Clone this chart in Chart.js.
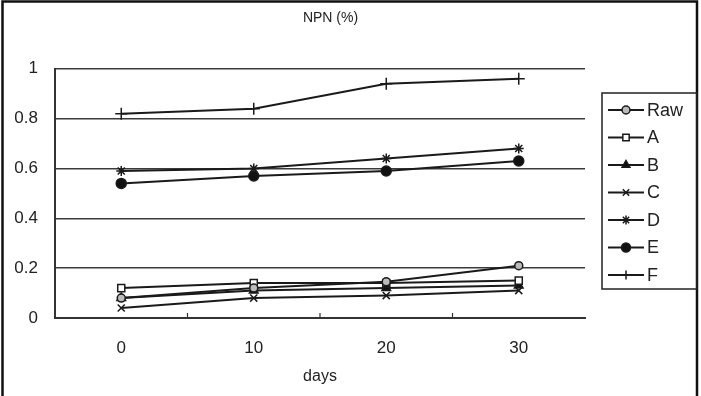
<!DOCTYPE html>
<html>
<head>
<meta charset="utf-8">
<style>
  html, body { margin: 0; padding: 0; background: #fff; }
  #wrap { width: 701px; height: 396px; position: relative; }
</style>
<script src="https://cdn.jsdelivr.net/npm/chart.js@4.4.1/dist/chart.umd.min.js"></script>
</head>
<body>
<div id="wrap"><canvas id="c" width="701" height="396"></canvas></div>
<script>
const chartTitle = 'NPN (%)';
const xAxisTitle = 'days';
const categories = ['0', '10', '20', '30'];
const seriesNames = ['Raw', 'A', 'B', 'C', 'D', 'E', 'F'];
const rawValues = [0.08, 0.12, 0.145, 0.21];
const aValues = [0.12, 0.14, 0.14, 0.15];
const bValues = [0.08, 0.11, 0.12, 0.13];
const cValues = [0.04, 0.08, 0.09, 0.11];
const dValues = [0.59, 0.60, 0.64, 0.68];
const eValues = [0.54, 0.57, 0.59, 0.63];
const fValues = [0.82, 0.84, 0.94, 0.96];
const yTicks = [0, 0.2, 0.4, 0.6, 0.8, 1];

const allValues = [rawValues, aValues, bValues, cValues, dValues, eValues, fValues];
const markerStyles = [
  { pointStyle: 'circle', radius: 4, fill: '#bbb' },
  { pointStyle: 'rect', radius: 5, fill: '#fff' },
  { pointStyle: 'triangle', radius: 5, fill: '#111' },
  { pointStyle: 'crossRot', radius: 5, fill: '#111' },
  { pointStyle: 'star', radius: 5, fill: '#111' },
  { pointStyle: 'circle', radius: 5, fill: '#111' },
  { pointStyle: 'cross', radius: 6, fill: '#111' }
];

const datasets = seriesNames.map((name, i) => ({
  label: name,
  data: allValues[i],
  borderColor: '#1a1a1a',
  borderWidth: 2,
  backgroundColor: markerStyles[i].fill,
  pointStyle: markerStyles[i].pointStyle,
  pointRadius: markerStyles[i].radius,
  pointBorderColor: '#1a1a1a',
  pointBorderWidth: 1.5,
  pointBackgroundColor: markerStyles[i].fill,
  tension: 0,
  fill: false
}));

const FONT = "'Liberation Sans', Arial, sans-serif";

const framePlugin = {
  id: 'frame',
  afterDraw(chart) {
    const ctx = chart.ctx;
    const ca = chart.chartArea;
    const xs = chart.scales.x;
    ctx.save();
    // outer frame
    ctx.strokeStyle = '#111';
    ctx.lineWidth = 2.5;
    ctx.beginPath();
    ctx.moveTo(2.5, 396);
    ctx.lineTo(2.5, 1.5);
    ctx.lineTo(697, 1.5);
    ctx.lineTo(697, 396);
    ctx.stroke();
    // small inward ticks between categories on x axis
    ctx.lineWidth = 1.2;
    ctx.strokeStyle = '#333';
    for (let i = 0; i < categories.length - 1; i++) {
      const px = (xs.getPixelForValue(i) + xs.getPixelForValue(i + 1)) / 2;
      ctx.beginPath();
      ctx.moveTo(px, ca.bottom);
      ctx.lineTo(px, ca.bottom - 5);
      ctx.stroke();
    }
    // legend
    const lx = 602, ly = 93, lw = 95, lh = 196;
    ctx.lineWidth = 1.5;
    ctx.strokeStyle = '#222';
    ctx.strokeRect(lx, ly, lw, lh);
    ctx.font = '18px ' + FONT;
    ctx.fillStyle = '#222';
    ctx.textBaseline = 'middle';
    ctx.textAlign = 'left';
    chart.data.datasets.forEach((ds, i) => {
      const y = 110 + i * 27.5;
      ctx.strokeStyle = '#1a1a1a';
      ctx.lineWidth = 2;
      ctx.beginPath();
      ctx.moveTo(608, y);
      ctx.lineTo(644, y);
      ctx.stroke();
      ctx.fillStyle = ds.pointBackgroundColor;
      ctx.strokeStyle = '#1a1a1a';
      ctx.lineWidth = 1.5;
      Chart.helpers.drawPoint(ctx, {
        pointStyle: ds.pointStyle,
        radius: Math.min(ds.pointRadius, 4.5),
        rotation: 0,
        borderWidth: 1.5
      }, 626, y);
      ctx.fillStyle = '#222';
      ctx.fillText(ds.label, 647, y + 1);
    });
    ctx.restore();
  }
};

new Chart(document.getElementById('c'), {
  type: 'line',
  data: { labels: categories, datasets: datasets },
  options: {
    responsive: false,
    animation: false,
    layout: { padding: { left: 0, right: 40, top: 0, bottom: 0 } },
    plugins: {
      legend: { display: false },
      tooltip: { enabled: false },
      title: {
        display: true,
        text: chartTitle,
        color: '#222',
        font: { family: FONT, size: 14, weight: 'normal' },
        padding: { top: 10, bottom: 42 }
      }
    },
    scales: {
      x: {
        type: 'category',
        offset: true,
        grid: { display: false, drawTicks: false },
        border: { display: true, color: '#333', width: 2 },
        ticks: { color: '#222', font: { family: FONT, size: 17 }, padding: 20 },
        title: {
          display: true,
          text: xAxisTitle,
          color: '#222',
          font: { family: FONT, size: 16 },
          padding: { top: 8, bottom: 10 }
        },
        afterFit(scale) { scale.height = 78; }
      },
      y: {
        min: 0,
        max: 1,
        afterBuildTicks(scale) { scale.ticks = yTicks.map(v => ({ value: v })); },
        grid: { color: '#3a3a3a', lineWidth: 1.5, drawTicks: false },
        border: { display: true, color: '#333', width: 2 },
        ticks: {
          color: '#222',
          font: { family: FONT, size: 17 },
          padding: 17,
          callback: (v) => String(v)
        },
        afterFit(scale) { scale.width = 55; }
      },
      yRight: {
        position: 'right',
        display: true,
        min: 0,
        max: 1,
        grid: { display: false, drawOnChartArea: false, drawTicks: false },
        border: { display: false },
        ticks: { display: false },
        afterFit(scale) { scale.width = 76; }
      }
    }
  },
  plugins: [framePlugin]
});
</script>
</body>
</html>
